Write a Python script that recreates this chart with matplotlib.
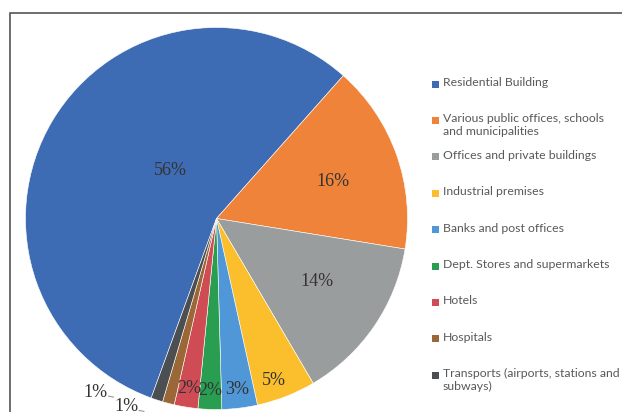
import numpy as np
import matplotlib.pyplot as plt
from matplotlib.patches import Rectangle

categories = [
    "Residential Building",
    "Various public offices, schools\nand municipalities",
    "Offices and private buildings",
    "Industrial premises",
    "Banks and post offices",
    "Dept. Stores and supermarkets",
    "Hotels",
    "Hospitals",
    "Transports (airports, stations and\nsubways)",
]
shares = [56, 16, 14, 5, 3, 2, 2, 1, 1]
colors = ["#3e6cb4", "#f0833a", "#9a9d9e", "#fbbe2c", "#4f97d6",
          "#2a9e50", "#cf4c55", "#9c6737", "#4b4f52"]

# placement of percentage labels: radius fraction and angular nudge (deg)
label_r = [0.35, 0.64, 0.62, 0.9, 0.9, 0.9, 0.9]
label_nudge = [-15, -2, 2, -2, 0, 0, 0]

W, H = 622, 412
fig = plt.figure(figsize=(W / 100, H / 100), dpi=100)

# outer chart frame
fig.patches.append(Rectangle((10 / W, -0.1), 1.0, (H - 13) / H + 0.1,
                             transform=fig.transFigure, fill=False,
                             edgecolor="#555555", linewidth=1.2))

cx, cy, r = 216.5, 218.5, 191
ax = fig.add_axes([(cx - r) / W, (H - cy - r) / H, 2 * r / W, 2 * r / H])
wedges, _ = ax.pie(shares, colors=colors, startangle=250, counterclock=False,
                   radius=1, wedgeprops=dict(edgecolor="white", linewidth=0.4))
ax.set_xlim(-1, 1)
ax.set_ylim(-1, 1)
ax.set_aspect("equal")
ax.axis("off")

for i, w in enumerate(wedges[:7]):
    mid = np.deg2rad((w.theta1 + w.theta2) / 2 + label_nudge[i])
    ax.text(label_r[i] * np.cos(mid), label_r[i] * np.sin(mid), f"{shares[i]}%",
            ha="center", va="center", fontsize=13,
            family="Liberation Serif", color="#333333")

# small outside labels with short leaders
outside = {7: (-0.41, -0.985), 8: (-0.57, -0.91)}
for i, (tx, ty) in outside.items():
    ax.text(tx, ty, f"{shares[i]}%", ha="right", va="center", fontsize=13,
            family="Liberation Serif", color="#333333", clip_on=False)
    ax.plot([tx + 0.005, tx + 0.03], [ty - 0.02, ty - 0.025], color="#999999",
            lw=0.8, clip_on=False)

# legend entries
y0, step = 84, 36.4
for i, (lab, col) in enumerate(zip(categories, colors)):
    y = y0 + i * step
    fig.patches.append(Rectangle((432 / W, (H - y - 3.5) / H), 7 / W, 7 / H,
                                 transform=fig.transFigure, facecolor=col,
                                 edgecolor="none"))
    fig.text(443 / W, (H - y + 7) / H, lab, ha="left", va="top",
             fontsize=8.8, family="Lato", color="#595959", linespacing=1.22)

fig.savefig("out.png", dpi=100)
